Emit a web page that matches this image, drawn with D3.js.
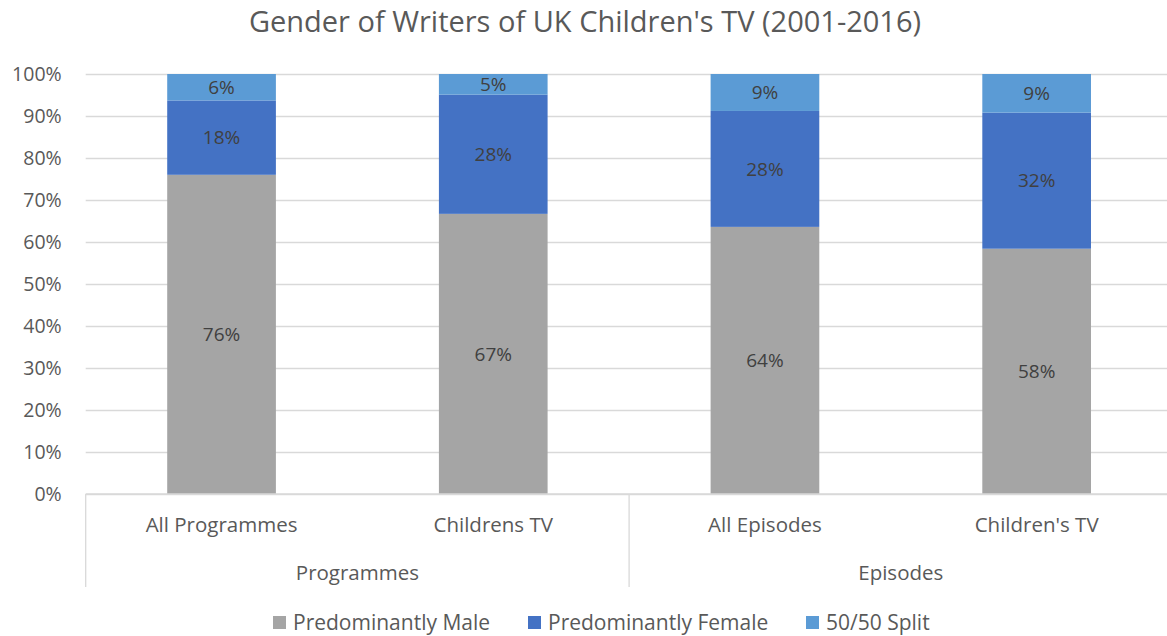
<!DOCTYPE html>
<html>
<head>
<meta charset="utf-8">
<script src="https://cdn.jsdelivr.net/npm/d3@7"></script>
<style>
  html, body { margin: 0; padding: 0; background: #fff; }
  svg { display: block; font-family: "Open Sans", sans-serif; }
</style>
</head>
<body>
<svg id="chart" width="1167" height="636"></svg>
<script>
// Categories and their grouping on the two-level x axis
const categories = ["All Programmes", "Childrens TV", "All Episodes", "Children's TV"];
const groups = ["Programmes", "Programmes", "Episodes", "Episodes"];

// Share of writing credits (%)
const seriesNames = ["Predominantly Male", "Predominantly Female", "50/50 Split"];
const male = [76.0, 66.7, 63.6, 58.4];
const female = [17.7, 28.4, 27.6, 32.4];
const split = [6.3, 4.9, 8.8, 9.2];

const yTicks = [0, 10, 20, 30, 40, 50, 60, 70, 80, 90, 100];
const colors = ["#A5A5A5", "#4472C4", "#5B9BD5"];

const FONT = "'Open Sans', sans-serif";
const svg = d3.select("#chart");
const x0 = 85.7, x1 = 1172.5, yTop = 74, yBottom = 494;

const rows = categories.map((c, i) => ({
  cat: c, group: groups[i],
  "Predominantly Male": male[i],
  "Predominantly Female": female[i],
  "50/50 Split": split[i]
}));

const x = d3.scaleBand().domain(categories).range([x0, x1])
  .paddingInner(0.6).paddingOuter(0.3);
const y = d3.scaleLinear().domain([0, 100]).range([yBottom, yTop]);
const color = d3.scaleOrdinal().domain(seriesNames).range(colors);

// Title
svg.append("text")
  .attr("x", 585).attr("y", 32)
  .attr("text-anchor", "middle")
  .attr("font-size", 29).attr("fill", "#595959")
  .text("Gender of Writers of UK Children's TV (2001-2016)");

// Gridlines and y tick labels
const yAxis = svg.append("g")
  .attr("transform", `translate(${x0},0)`)
  .call(d3.axisLeft(y).tickValues(yTicks).tickSize(-(x1 - x0)).tickPadding(24)
    .tickFormat(d => d + "%"));
yAxis.select(".domain").remove();
yAxis.selectAll(".tick line").attr("stroke", "#D9D9D9").attr("stroke-width", 1.3);
yAxis.selectAll(".tick text").attr("fill", "#595959").attr("font-size", 19.5)
  .attr("font-family", FONT);

// Stacked bars
const stack = d3.stack().keys(seriesNames);
const layers = stack(rows);

const layerG = svg.append("g").selectAll("g").data(layers).join("g")
  .attr("fill", d => color(d.key));
layerG.selectAll("rect").data(d => d).join("rect")
  .attr("x", d => x(d.data.cat))
  .attr("width", x.bandwidth())
  .attr("y", d => y(d[1]))
  .attr("height", d => y(d[0]) - y(d[1]));

// Data labels
const fmt = d3.format(".0f");
layerG.selectAll("text").data(d => d).join("text")
  .attr("x", d => x(d.data.cat) + x.bandwidth() / 2)
  .attr("y", d => (y(d[0]) + y(d[1])) / 2)
  .attr("dy", "0.35em")
  .attr("text-anchor", "middle")
  .attr("font-size", 19).attr("fill", "#404040")
  .text(d => fmt(d[1] - d[0]) + "%");

// Category axis line
svg.append("line")
  .attr("x1", x0).attr("x2", x1).attr("y1", yBottom).attr("y2", yBottom)
  .attr("stroke", "#D9D9D9").attr("stroke-width", 1.3);

// Inner category labels
const xAxis = svg.append("g")
  .attr("transform", `translate(0,${yBottom})`)
  .call(d3.axisBottom(x).tickSize(0).tickPadding(23));
xAxis.select(".domain").remove();
xAxis.selectAll(".tick text").attr("fill", "#595959").attr("font-size", 20.5)
  .attr("font-family", FONT);

// Group labels and separators
const groupNames = Array.from(new Set(groups));
const groupSpans = groupNames.map(g => {
  const cats = categories.filter((c, i) => groups[i] === g);
  const start = x(cats[0]) - x.step() * x.paddingInner() / 2;
  const end = x(cats[cats.length - 1]) + x.bandwidth() + x.step() * x.paddingInner() / 2;
  return { g, start, end };
});
const sepY2 = 587;
const seps = [groupSpans[0].start, ...groupSpans.map(s => s.end)];
svg.append("g").selectAll("line").data(seps).join("line")
  .attr("x1", d => d).attr("x2", d => d)
  .attr("y1", yBottom).attr("y2", sepY2)
  .attr("stroke", "#D9D9D9").attr("stroke-width", 1.3);
svg.append("g").selectAll("text").data(groupSpans).join("text")
  .attr("x", d => (d.start + d.end) / 2)
  .attr("y", 580)
  .attr("text-anchor", "middle")
  .attr("font-size", 20.5).attr("fill", "#595959")
  .text(d => d.g);

// Legend
const legendX = [273, 528, 806];
const legend = svg.append("g").selectAll("g").data(seriesNames).join("g")
  .attr("transform", (d, i) => `translate(${legendX[i]},616)`);
legend.append("rect").attr("width", 13).attr("height", 13).attr("fill", d => color(d));
legend.append("text").attr("x", 20).attr("y", 7).attr("dy", "0.35em")
  .attr("font-size", 21).attr("fill", "#595959").text(d => d);
</script>
</body>
</html>
